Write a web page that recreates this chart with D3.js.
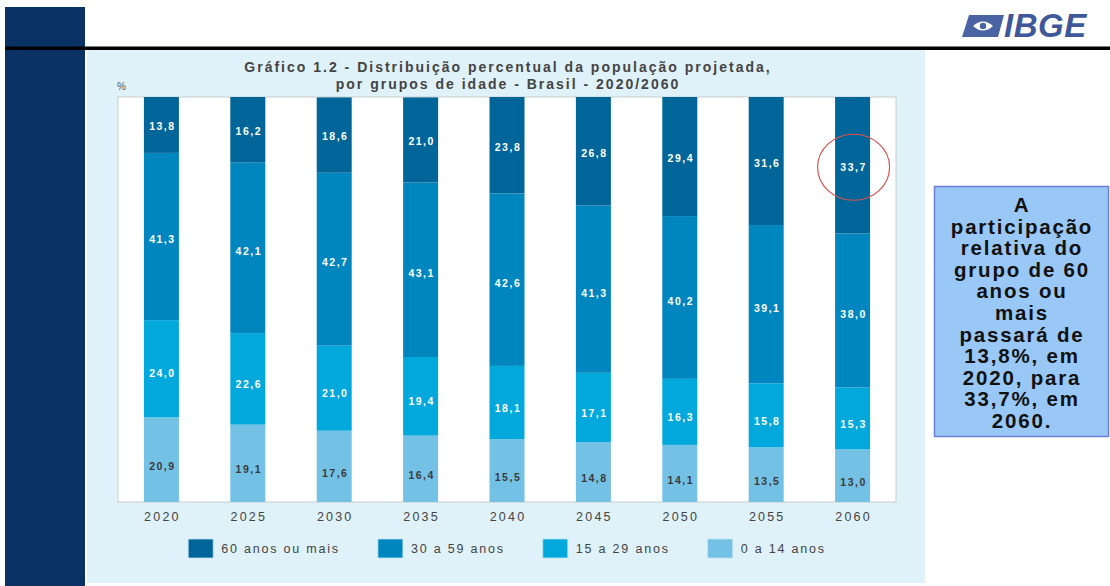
<!DOCTYPE html>
<html lang="pt">
<head>
<meta charset="utf-8">
<title>Gráfico 1.2 - Distribuição percentual da população projetada</title>
<script src="https://d3js.org/d3.v7.min.js"></script>
<style>
  body { margin: 0; background: #fff; }
  text { font-family: "Liberation Sans", Arial, sans-serif; }
</style>
</head>
<body>
<div id="chart"></div>
<script>
// Data
var years = ["2020", "2025", "2030", "2035", "2040", "2045", "2050", "2055", "2060"];
var age60plus = [13.8, 16.2, 18.6, 21.0, 23.8, 26.8, 29.4, 31.6, 33.7];
var age30to59 = [41.3, 42.1, 42.7, 43.1, 42.6, 41.3, 40.2, 39.1, 38.0];
var age15to29 = [24.0, 22.6, 21.0, 19.4, 18.1, 17.1, 16.3, 15.8, 15.3];
var age0to14  = [20.9, 19.1, 17.6, 16.4, 15.5, 14.8, 14.1, 13.5, 13.0];
var seriesNames = ["60 anos ou mais", "30 a 59 anos", "15 a 29 anos", "0 a 14 anos"];
var noteLines = ["A", "participação", "relativa do", "grupo de 60", "anos ou", "mais",
                 "passará de", "13,8%, em", "2020, para", "33,7%, em", "2060."];

var w = 1110, h = 586;
var colors = { "60 anos ou mais": "#006699", "30 a 59 anos": "#0086bf",
               "15 a 29 anos": "#00a8dc", "0 a 14 anos": "#74c1e6" };

// rows for d3.stack
var rows = years.map(function(y, i) {
  return { year: y, "0 a 14 anos": age0to14[i], "15 a 29 anos": age15to29[i],
           "30 a 59 anos": age30to59[i], "60 anos ou mais": age60plus[i] };
});
var stackKeys = ["0 a 14 anos", "15 a 29 anos", "30 a 59 anos", "60 anos ou mais"];
var stacked = d3.stack().keys(stackKeys)(rows);

var svg = d3.select("#chart").append("svg")
  .attr("width", w).attr("height", h);

// slide frame
svg.append("rect").attr("x", 5).attr("y", 7).attr("width", 80).attr("height", h - 7)
  .attr("fill", "#0b3264");
svg.append("rect").attr("x", 87).attr("y", 50).attr("width", 838).attr("height", 533)
  .attr("fill", "#dff1f9");
svg.append("rect").attr("x", 5).attr("y", 46.5).attr("width", w - 5).attr("height", 3.5)
  .attr("fill", "#000");

// IBGE logo
var logo = svg.append("g").attr("transform", "translate(962,14)");
logo.append("path").attr("d", "M7,1 L42,1 L36,23 L0,23 Z").attr("fill", "#4a64a3");
logo.append("path").attr("d", "M11,12 Q21,3 31,12 Q21,21 11,12 Z").attr("fill", "#fff");
logo.append("circle").attr("cx", 21).attr("cy", 12).attr("r", 3.2).attr("fill", "#4a64a3");
logo.append("text").attr("x", 42).attr("y", 23)
  .attr("font-size", 33).attr("font-weight", "bold").attr("font-style", "italic")
  .attr("fill", "#3f5899").attr("letter-spacing", 0.5).text("IBGE");

// title
var title = svg.append("text").attr("text-anchor", "middle")
  .attr("font-size", 14).attr("font-weight", "bold").attr("fill", "#444")
  .attr("letter-spacing", 2);
title.append("tspan").attr("x", 508).attr("y", 72)
  .text("Gráfico 1.2 - Distribuição percentual da população projetada,");
title.append("tspan").attr("x", 508).attr("y", 89)
  .text("por grupos de idade - Brasil - 2020/2060");

svg.append("text").attr("x", 117).attr("y", 90).attr("font-size", 10)
  .attr("fill", "#555").text("%");

// plot area
var plot = { left: 118, right: 896, top: 97, bottom: 502 };
svg.append("rect").attr("x", plot.left).attr("y", plot.top)
  .attr("width", plot.right - plot.left).attr("height", plot.bottom - plot.top)
  .attr("fill", "#fff").attr("stroke", "#c9cdd0").attr("stroke-width", 1);

var x = d3.scaleBand().domain(years).range([plot.left, plot.right])
  .paddingInner(0.595).paddingOuter(0.3);
var y = d3.scaleLinear().domain([0, 100]).range([plot.bottom, plot.top]);
// the original's value labels sit slightly lower than the segment middles
var yLabel = d3.scaleLinear().domain([0, 100]).range([plot.bottom + 7, plot.top + 1]);

var layers = svg.append("g").selectAll("g")
  .data(stacked).enter().append("g")
  .attr("fill", function(d) { return colors[d.key]; });

layers.selectAll("rect")
  .data(function(d) { return d; })
  .enter().append("rect")
  .attr("x", function(d) { return x(d.data.year); })
  .attr("width", x.bandwidth())
  .attr("y", function(d) { return y(d[1]); })
  .attr("height", function(d) { return y(d[0]) - y(d[1]); });

layers.each(function(layer) {
  d3.select(this).selectAll("text.val")
    .data(layer).enter().append("text")
    .attr("class", "val")
    .attr("x", function(d) { return x(d.data.year) + x.bandwidth() / 2 + 1; })
    .attr("y", function(d) { return yLabel((d[0] + d[1]) / 2); })
    .attr("dy", "0.35em")
    .attr("text-anchor", "middle")
    .attr("font-size", 10.5).attr("font-weight", "bold")
    .attr("letter-spacing", 1.5)
    .attr("fill", layer.key == "0 a 14 anos" ? "#3a3a3a" : "#fff")
    .text(function(d) { return d3.format(".1f")(d[1] - d[0]).replace(".", ","); });
});

// x axis labels
var xAxis = svg.append("g").attr("transform", "translate(0," + plot.bottom + ")")
  .call(d3.axisBottom(x).tickSize(0).tickPadding(10));
xAxis.select(".domain").remove();
xAxis.selectAll("text").attr("font-size", 12.5).attr("fill", "#444")
  .attr("letter-spacing", 2.2).attr("font-family", "Liberation Sans, Arial, sans-serif")
  .attr("dx", "1px");

// legend, centred under the plot
var legend = svg.append("g");
var items = legend.selectAll("g").data(seriesNames).enter().append("g");
items.append("rect").attr("width", 25).attr("height", 19).attr("y", -10)
  .attr("fill", function(d) { return colors[d]; })
  .attr("stroke", "#bfe3f3").attr("stroke-width", 0.8);
items.append("text").attr("x", 33).attr("dy", "0.35em")
  .attr("font-size", 12.5).attr("fill", "#444").attr("letter-spacing", 1.8)
  .text(function(d) { return d; });
var lx = 0;
items.each(function() {
  var t = d3.select(this).select("text").node().getComputedTextLength();
  d3.select(this).attr("transform", "translate(" + lx + ",0)");
  lx += 33 + t + 38;
});
lx -= 38;
legend.attr("transform", "translate(" + ((plot.left + plot.right) / 2 - lx / 2) + ",549)");

// highlight ring on 2060
var last = stacked[3][years.length - 1];
svg.append("ellipse")
  .attr("cx", x("2060") + x.bandwidth() / 2 + 1)
  .attr("cy", yLabel((last[0] + last[1]) / 2))
  .attr("rx", 36).attr("ry", 33)
  .attr("fill", "none").attr("stroke", "#d9504c").attr("stroke-width", 1.2);

// side note
svg.append("rect").attr("x", 934.5).attr("y", 186.5).attr("width", 174).attr("height", 250)
  .attr("fill", "#99c8f7").attr("stroke", "#6f7fd8").attr("stroke-width", 1.5);
svg.append("text").attr("text-anchor", "middle")
  .attr("font-size", 20.5).attr("font-weight", "bold").attr("fill", "#111")
  .attr("letter-spacing", 1.8)
  .selectAll("tspan").data(noteLines).enter().append("tspan")
  .attr("x", 1022).attr("y", function(d, i) { return 212 + i * 21.6; })
  .text(function(d) { return d; });
</script>
</body>
</html>
